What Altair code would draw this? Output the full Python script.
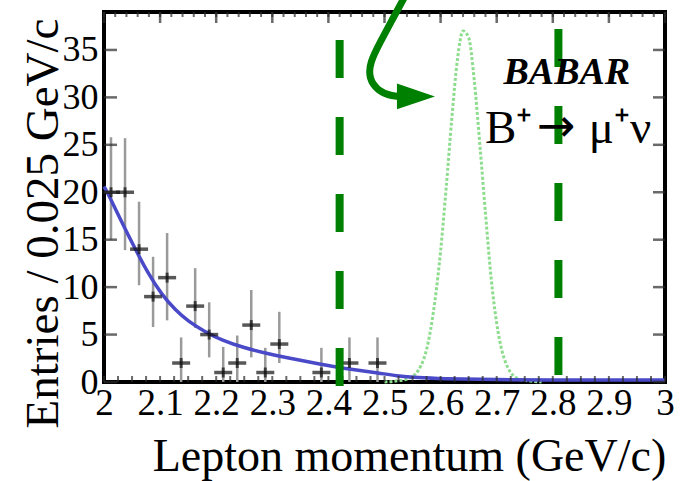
import altair as alt
import pandas as pd

# ---------------- data ----------------
bin_center = [2.0125, 2.0375, 2.0625, 2.0875, 2.1125, 2.1375, 2.1625, 2.1875,
              2.2125, 2.2375, 2.2625, 2.2875, 2.3125, 2.3875, 2.4375, 2.4875]
entries = [20, 20, 14, 9, 11, 2, 8, 5, 1, 2, 6, 1, 4, 1, 2, 2]
err_lo = [15.0, 13.9, 10.2, 5.8, 6.5, 0, 5.7, 2.6, 0, 0, 2.6, 0, 2.0, 0, 0, 0]
err_hi = [25.8, 25.7, 19.0, 13.2, 15.7, 4.7, 12.0, 8.4, 3.7, 4.9, 9.7, 3.6, 7.4, 3.6, 4.7, 4.7]

fit_x = [2.0, 2.007, 2.032, 2.055, 2.078, 2.103, 2.127, 2.150, 2.180, 2.210, 2.25, 2.29,
         2.35, 2.41, 2.45, 2.49, 2.52, 2.56, 2.6, 2.7, 2.8, 2.9, 3.0]
fit_y = [20.6, 19.9, 16.8, 14.1, 11.5, 9.2, 7.6, 6.4, 5.3, 4.4, 3.6, 3.0,
         2.3, 1.6, 1.25, 0.95, 0.65, 0.45, 0.35, 0.25, 0.2, 0.2, 0.2]

sig_x = [2.50, 2.52, 2.54, 2.56, 2.58, 2.60, 2.61, 2.62, 2.63, 2.64, 2.65, 2.66,
         2.67, 2.68, 2.69, 2.70, 2.72, 2.74, 2.76, 2.78]
sig_y = [0.0, 0.1, 0.3, 1.2, 4.8, 13.8, 20.5, 27.8, 34.0, 37.0, 36.3, 31.8,
         25.0, 17.8, 11.0, 6.2, 1.5, 0.3, 0.1, 0.0]

cut_x = [2.42, 2.81]
cut_offset = [49, 60]

arrow_x = [2.535, 2.513, 2.492, 2.474, 2.472, 2.488, 2.513, 2.537]
arrow_y = [40.5, 38.1, 35.8, 33.7, 32.0, 30.7, 30.1, 30.1]
arrow_head_x = [2.556]
arrow_head_y = [30.1]

y_ticks = [0, 5, 10, 15, 20, 25, 30, 35]
x_ticks = [2, 2.1, 2.2, 2.3, 2.4, 2.5, 2.6, 2.7, 2.8, 2.9, 3]
top_minor = [round(2 + 0.02 * i, 3) for i in range(51)]
bottom_minor = [round(2 + 0.025 * i, 4) for i in range(41)]

experiment_label = ["BABAR"]
decay_parts = ["B\u207a", "\u2192", "\u03bc\u207a\u03bd"]

# ---------------- chart ----------------
FONT = "Liberation Serif"
W, H = 561, 370
xs = alt.Scale(domain=[2, 3], nice=False, zero=False)
ys = alt.Scale(domain=[0, 39], nice=False, zero=False)

pts = pd.DataFrame({"x": bin_center, "y": entries, "lo": err_lo, "hi": err_hi})
fit = pd.DataFrame({"x": fit_x, "y": fit_y})
sig = pd.DataFrame({"x": sig_x, "y": sig_y})
arrow = pd.DataFrame({"x": arrow_x, "y": arrow_y, "o": list(range(len(arrow_x)))})
head = pd.DataFrame({"x": arrow_head_x, "y": arrow_head_y})

x_axis = alt.Axis(values=x_ticks, format=".1~f", domain=False, ticks=False, grid=False,
                  labelFont=FONT, labelFontSize=37, labelColor="black", labelPadding=3,
                  labelFlush=False, labelOverlap=False,
                  title="Lepton momentum (GeV/c)", titleFont=FONT, titleFontSize=46,
                  titleFontWeight="normal", titleColor="black", titleX=305, titleY=88,
                  titleBaseline="alphabetic", titleAlign="center")
y_axis = alt.Axis(values=y_ticks, domain=False, ticks=False, grid=False,
                  labelFont=FONT, labelFontSize=36, labelColor="black", labelPadding=6,
                  labelFlush=False, labelOverlap=False,
                  title="Entries / 0.025 GeV/c", titleFont=FONT, titleFontSize=47,
                  titleFontWeight="normal", titleColor="black", titleX=-47, titleY=211,
                  titleBaseline="alphabetic", titleAlign="center", titleAngle=270)

errbars = alt.Chart(pts).mark_rule(color="#9a9a9a", strokeWidth=2.5).encode(
    x=alt.X("x:Q", scale=xs, axis=x_axis),
    y=alt.Y("lo:Q", scale=ys, axis=y_axis),
    y2="hi:Q",
)
hbar = alt.Chart(pts).mark_tick(orient="horizontal", size=18, thickness=3.5, color="#111").encode(
    x=alt.X("x:Q", scale=xs), y=alt.Y("y:Q", scale=ys))
vbar = alt.Chart(pts).mark_tick(orient="vertical", size=10, thickness=3, color="#111").encode(
    x=alt.X("x:Q", scale=xs), y=alt.Y("y:Q", scale=ys))

fit_line = alt.Chart(fit).mark_line(color="#4a4ac8", strokeWidth=3.5, interpolate="basis").encode(
    x=alt.X("x:Q", scale=xs), y=alt.Y("y:Q", scale=ys))
sig_line = alt.Chart(sig).mark_line(color="#8edc8e", strokeWidth=3, strokeDash=[3, 2],
                                    interpolate="monotone").encode(
    x=alt.X("x:Q", scale=xs), y=alt.Y("y:Q", scale=ys))

cuts = [
    alt.Chart(pd.DataFrame({"x": [cx]})).mark_rule(
        color="#008000", strokeWidth=8, strokeDash=[38, 39], strokeDashOffset=off).encode(
        x=alt.X("x:Q", scale=xs), y=alt.value(0), y2=alt.value(H + 5))
    for cx, off in zip(cut_x, cut_offset)
]

arrow_line = alt.Chart(arrow).mark_line(color="#008000", strokeWidth=7, interpolate="basis",
                                        clip=False).encode(
    x=alt.X("x:Q", scale=xs), y=alt.Y("y:Q", scale=ys), order="o:Q")
arrow_tip = alt.Chart(head).mark_point(shape="M-1,-0.68L1,0L-1,0.68Z", size=1444, filled=True,
                                       color="#008000", opacity=1, strokeWidth=0).encode(
    x=alt.X("x:Q", scale=xs), y=alt.Y("y:Q", scale=ys))

tick_color = "#2a2a2a"
top_major = alt.Chart(pd.DataFrame({"x": x_ticks})).mark_tick(
    orient="vertical", size=11, thickness=2.5, color=tick_color).encode(
    x=alt.X("x:Q", scale=xs), y=alt.value(5.5))
top_min = alt.Chart(pd.DataFrame({"x": top_minor})).mark_tick(
    orient="vertical", size=5, thickness=2, color=tick_color).encode(
    x=alt.X("x:Q", scale=xs), y=alt.value(2.5))
bot_min = alt.Chart(pd.DataFrame({"x": bottom_minor})).mark_tick(
    orient="vertical", size=6, thickness=2, color=tick_color).encode(
    x=alt.X("x:Q", scale=xs), y=alt.value(H - 3))
left_t = alt.Chart(pd.DataFrame({"y": y_ticks})).mark_tick(
    orient="horizontal", size=13, thickness=2.5, color=tick_color).encode(
    y=alt.Y("y:Q", scale=ys), x=alt.value(6.5))
right_t = alt.Chart(pd.DataFrame({"y": y_ticks})).mark_tick(
    orient="horizontal", size=12, thickness=2.5, color=tick_color).encode(
    y=alt.Y("y:Q", scale=ys), x=alt.value(W - 6))

babar = alt.Chart(pd.DataFrame({"t": experiment_label, "x": [2.825], "y": [31.4]})).mark_text(
    font=FONT, fontSize=38, fontStyle="italic", fontWeight="bold", color="black",
    align="center", baseline="alphabetic").encode(
    x=alt.X("x:Q", scale=xs), y=alt.Y("y:Q", scale=ys), text="t:N")
decay_b = alt.Chart(pd.DataFrame({"t": [decay_parts[0]], "x": [2.679], "y": [25.2]})).mark_text(
    font=FONT, fontSize=47, color="black", align="left", baseline="alphabetic").encode(
    x=alt.X("x:Q", scale=xs), y=alt.Y("y:Q", scale=ys), text="t:N")
decay_arrow = alt.Chart(pd.DataFrame({"t": [decay_parts[1]], "x": [2.772], "y": [26.9]})).mark_text(
    font="DejaVu Sans", fontSize=46, color="black", align="left", baseline="middle").encode(
    x=alt.X("x:Q", scale=xs), y=alt.Y("y:Q", scale=ys), text="t:N")
decay_mu = alt.Chart(pd.DataFrame({"t": [decay_parts[2]], "x": [2.864], "y": [25.2]})).mark_text(
    font=FONT, fontSize=47, color="black", align="left", baseline="alphabetic").encode(
    x=alt.X("x:Q", scale=xs), y=alt.Y("y:Q", scale=ys), text="t:N")

chart = alt.layer(
    errbars, sig_line, fit_line, hbar, vbar,
    top_major, top_min, bot_min, left_t, right_t,
    *cuts, arrow_line, arrow_tip, babar, decay_b, decay_arrow, decay_mu,
).properties(
    width=W, height=H,
    autosize=alt.AutoSizeParams(type="none"),
    padding={"left": 104, "top": 12, "right": 21, "bottom": 99},
    background="white",
).configure_view(stroke="black", strokeWidth=4)

chart.save("out.html", embed_options={"renderer": "svg", "actions": False})
